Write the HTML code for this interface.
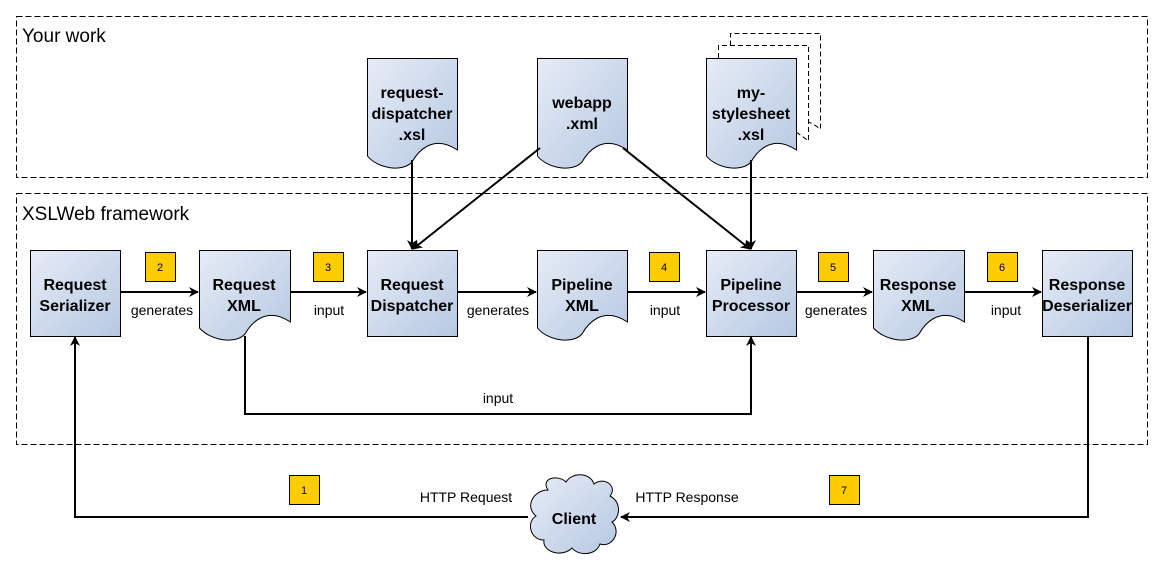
<!DOCTYPE html>
<html><head><style>body{margin:0;background:#fff}svg{display:block}</style></head><body>
<svg width="1163" height="573" viewBox="0 0 1163 573" xmlns="http://www.w3.org/2000/svg" font-family="Liberation Sans, Arial, sans-serif">
<defs>
<linearGradient id="g" x1="0" y1="0" x2="1" y2="1"><stop offset="0" stop-color="#e6ecf6"/><stop offset="1" stop-color="#b6c8e2"/></linearGradient>
<marker id="a" viewBox="0 0 10 10" refX="9" refY="5" markerWidth="10" markerHeight="10" markerUnits="userSpaceOnUse" orient="auto"><path d="M0,0 L10,5 L0,10 L3,5 Z" fill="#000"/></marker>
</defs>
<g fill="none" stroke="#000" stroke-dasharray="6,3">
<rect x="16.5" y="16.5" width="1131" height="161"/>
<rect x="16.5" y="193.5" width="1131" height="251"/>
</g>
<text x="22" y="42" font-size="19">Your work</text>
<text x="22" y="220" font-size="19">XSLWeb framework</text>

<g fill="#fff" stroke="#000" stroke-dasharray="5,3">
<path d="M730.5,45.5 V33.5 H820.5 V129 Q808,120 796,118"/>
<path d="M718.5,58 V45.5 H808.5 V141 Q802,136 796,132"/>
</g>
<g fill="url(#g)" stroke="#000">
<rect x="30.5" y="250.5" width="90" height="86"/>
<rect x="367.5" y="250.5" width="90" height="86"/>
<rect x="706.5" y="250.5" width="90" height="86"/>
<rect x="1042.5" y="250.5" width="90" height="86"/>
<path d="M199.5,250.5 H290.5 V322 C265,305 250,325 245,334 C235,345 210,340 199.5,328 Z"/>
<path d="M537.5,250.5 H627.5 V322 C602,305 587,325 582,334 C572,345 547,340 537.5,328 Z"/>
<path d="M873.5,250.5 H964.5 V322 C939,305 924,325 919,334 C909,345 884,340 873.5,328 Z"/>
<path d="M367.5,58.5 H457.5 V150 C432,133 417,153 412,162 C402,173 377,168 367.5,156 Z"/>
<path d="M537.5,58.5 H627.5 V150 C602,133 587,153 582,162 C572,173 547,168 537.5,156 Z"/>
<path d="M706.5,58.5 H796.5 V150 C771,133 756,153 751,162 C741,173 716,168 706.5,156 Z"/>
<path d="M548,490 C540,478 558,474 566,482 C572,472 590,472 594,484 C604,476 618,486 610,496 C622,502 620,518 612,522 C622,532 612,548 600,544 C596,556 578,556 572,548 C562,558 542,552 544,540 C530,540 526,522 536,516 C524,506 534,490 548,490 Z"/>
</g>
<g font-size="16" font-weight="bold" text-anchor="middle">
<text x="75" y="290">Request</text><text x="75" y="311">Serializer</text>
<text x="244" y="290">Request</text><text x="244" y="311">XML</text>
<text x="412" y="290">Request</text><text x="412" y="311">Dispatcher</text>
<text x="582" y="290">Pipeline</text><text x="582" y="311">XML</text>
<text x="751" y="290">Pipeline</text><text x="751" y="311">Processor</text>
<text x="918" y="290">Response</text><text x="918" y="311">XML</text>
<text x="1087" y="290">Response</text><text x="1087" y="311">Deserializer</text>
<text x="412" y="98">request-</text><text x="412" y="119">dispatcher</text><text x="412" y="140">.xsl</text>
<text x="582" y="108">webapp</text><text x="582" y="129">.xml</text>
<text x="751" y="98">my-</text><text x="751" y="119">stylesheet</text><text x="751" y="140">.xsl</text>
<text x="574" y="524">Client</text>
</g>
<g stroke="#000" stroke-width="2" fill="none" marker-end="url(#a)">
<line x1="121" y1="292" x2="198" y2="292"/>
<line x1="291" y1="292" x2="366" y2="292"/>
<line x1="458" y1="292" x2="536" y2="292"/>
<line x1="628" y1="292" x2="705" y2="292"/>
<line x1="797" y1="292" x2="872" y2="292"/>
<line x1="965" y1="292" x2="1041" y2="292"/>
<line x1="412" y1="160" x2="412" y2="249"/>
<line x1="751" y1="160" x2="751" y2="249"/>
<line x1="540" y1="148" x2="413" y2="249"/>
<line x1="623" y1="148" x2="750" y2="249"/>
<polyline points="245,336 245,414 751,414 751,337"/>
<polyline points="528,517 75,517 75,337"/>
<polyline points="1088,337 1088,517 621,517"/>
</g>
<g font-size="14" text-anchor="middle">
<text x="162" y="315">generates</text><text x="329" y="315">input</text>
<text x="498" y="315">generates</text><text x="665" y="315">input</text>
<text x="836" y="315">generates</text><text x="1006" y="315">input</text>
<text x="498" y="403">input</text>
<text x="466" y="502">HTTP Request</text><text x="687" y="502">HTTP Response</text>
</g>
<g fill="#ffcc00" stroke="#000">
<rect x="145.5" y="252.5" width="30" height="29"/><rect x="313.5" y="252.5" width="30" height="29"/>
<rect x="649.5" y="252.5" width="30" height="29"/><rect x="818.5" y="252.5" width="30" height="29"/>
<rect x="987.5" y="252.5" width="30" height="29"/><rect x="289.5" y="475.5" width="30" height="29"/>
<rect x="829.5" y="475.5" width="30" height="29"/>
</g>
<g font-size="11" text-anchor="middle">
<text x="160" y="271">2</text><text x="328" y="271">3</text><text x="664" y="271">4</text>
<text x="833" y="271">5</text><text x="1002" y="271">6</text><text x="304" y="494">1</text><text x="844" y="494">7</text>
</g>
</svg>
</body></html>
